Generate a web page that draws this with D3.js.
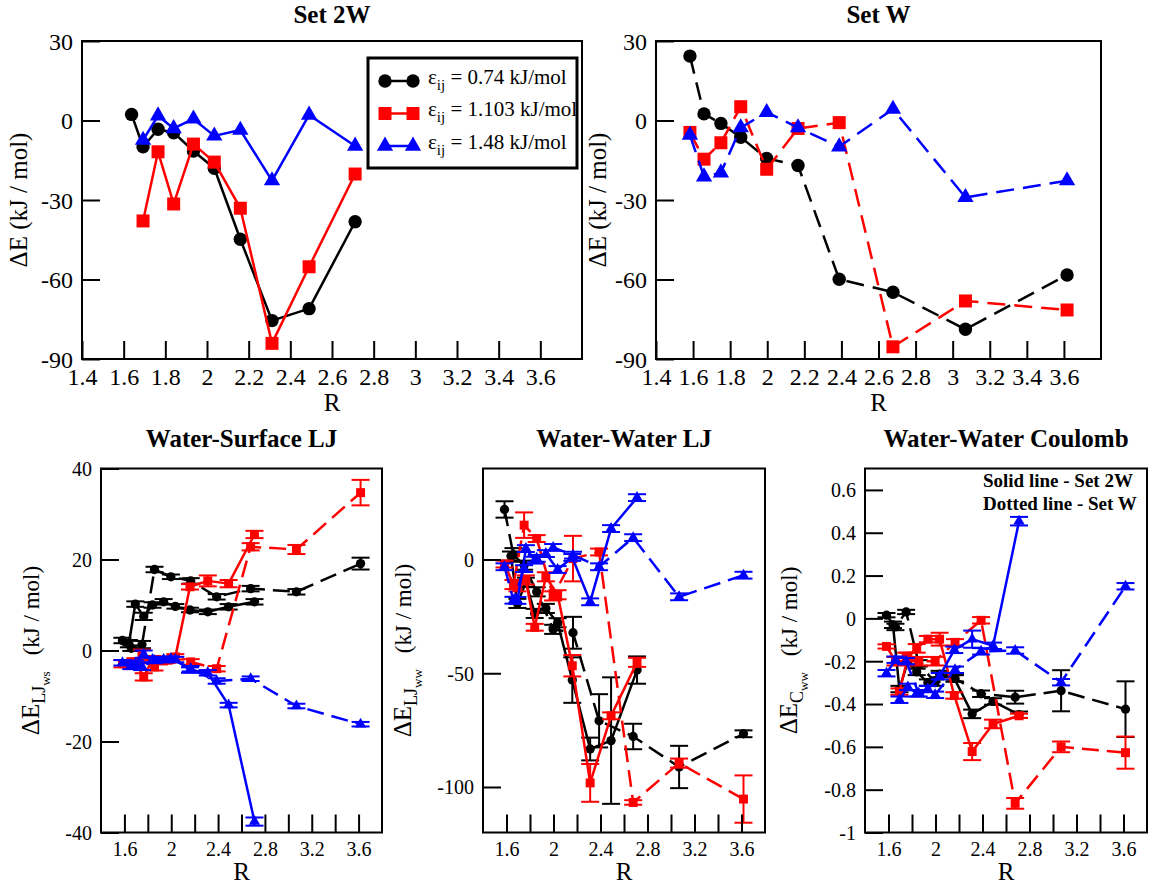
<!DOCTYPE html>
<html><head><meta charset="utf-8">
<script src="https://cdn.jsdelivr.net/npm/d3@7"></script>
<style>body{margin:0;background:#fff} svg{display:block} svg text{font-family:"Liberation Serif",serif !important}</style>
</head><body><svg id="c" width="1159" height="891"></svg>
<script>
// ---------- data ----------
const rBlack2W = [1.638, 1.693, 1.765, 1.84, 1.935, 2.035, 2.16, 2.312, 2.49, 2.711];
const rRB2W    = [1.693, 1.765, 1.84, 1.935, 2.035, 2.16, 2.312, 2.49, 2.711];
const rW       = [1.583, 1.659, 1.75, 1.857, 1.997, 2.166, 2.388, 2.678, 3.069, 3.617];

const legendLabels = ["0.74 kJ/mol", "1.103 kJ/mol", "1.48 kJ/mol"];
const panelTitles = ["Set 2W", "Set W", "Water-Surface LJ", "Water-Water LJ", "Water-Water Coulomb"];

// Top panels: total ΔE
const set2W_black = [2.3, -9.9, -3.3, -4.6, -11.5, -18.0, -44.8, -75.5, -71.0, -38.2];
const set2W_red   = [-37.9, -11.8, -31.5, -8.9, -15.7, -33.1, -84.1, -55.2, -20.2];
const set2W_blue  = [-7.4, 1.8, -3.0, 0.6, -5.8, -3.6, -22.7, 2.1, -9.6];
const setW_black  = [24.3, 2.5, -1.1, -6.3, -14.3, -17.0, -59.9, -64.8, -78.8, -58.3];
const setW_red    = [-4.5, -14.6, -8.4, 5.2, -18.4, -3.0, -0.8, -85.4, -68.1, -71.5];
const setW_blue   = [-5.5, -21.2, -19.7, -2.7, 3.1, -2.7, -9.9, 4.3, -29.0, -22.7];

// Water-Surface LJ
const ws_black_2W = [1.5, 10.2, 7.5, 10.0, 10.7, 9.7, 8.9, 8.5, 9.6, 10.7];
const ws_black_2W_err = [0.8, 0.6, 0.8, 0.6, 0.6, 0.5, 0.5, 0.5, 0.6, 0.6];
const ws_black_W  = [2.2, 0.5, 1.3, 17.8, 16.2, 15.3, 11.8, 13.6, 12.9, 19.1];
const ws_black_W_err = [0.6, 0.6, 0.8, 0.6, 0.5, 0.6, 0.6, 0.6, 0.6, 1.3];
const ws_red_2W   = [-2.5, -5.8, -2.0, -2.3, -1.4, 14.0, 15.3, 14.7, 25.5];
const ws_red_2W_err = [0.8, 0.8, 0.8, 0.6, 0.6, 0.6, 1.2, 0.8, 0.8];
const ws_red_W    = [-2.9, -3.0, -1.0, -3.6, -2.0, -2.5, -4.0, 22.8, 22.2, 34.7];
const ws_red_W_err = [0.8, 0.8, 1.2, 0.8, 0.6, 0.6, 0.6, 0.8, 1.0, 2.8];
const ws_blue_2W  = [-3.0, -0.8, -2.0, -2.0, -2.0, -4.3, -4.9, -12.0, -37.6];
const ws_blue_2W_err = [0.8, 0.8, 0.6, 0.6, 0.6, 0.6, 0.6, 0.5, 0.9];
const ws_blue_W   = [-2.7, -3.3, -3.5, -2.2, -1.8, -4.0, -6.7, -6.2, -12.2, -16.2];
const ws_blue_W_err = [0.6, 0.8, 0.8, 0.6, 0.5, 0.6, 0.6, 0.5, 0.5, 0.5];

// Water-Water LJ
const ww_black_2W = [1.5, -19.3, -10.0, -23.7, -21.5, -27.8, -53.0, -83.3, -79.6, -48.6];
const ww_black_2W_err = [2, 2, 2, 2, 2, 2, 10, 5, 27.8, 6];
const ww_black_W  = [22.0, 2.0, -2.5, -14.2, -30.7, -32.2, -70.9, -77.8, -91.2, -76.6];
const ww_black_W_err = [3.6, 3, 2, 2, 2, 7, 11.7, 5.6, 9.3, 1.5];
const ww_red_2W   = [-12.0, -9.0, -29.8, -7.6, -15.5, -46.7, -98.2, -68.7, -45.2];
const ww_red_2W_err = [2, 2, 1.5, 2, 2, 4.7, 8.3, 1.5, 2];
const ww_red_W    = [-2.0, -11.0, 15.1, 9.2, -16.0, 0.4, 3.3, -106.8, -89.5, -105.3];
const ww_red_W_err = [1.5, 2, 5.6, 1.5, 2, 10, 1.5, 1, 2, 10.4];
const ww_blue_2W  = [-18.0, 4.8, -0.3, 2.6, -4.4, 0.9, -18.6, 13.6, 27.2];
const ww_blue_2W_err = [1.5, 1.5, 1.5, 1.5, 1.5, 1.5, 1.5, 1.5, 1.5];
const ww_blue_W   = [-3.2, -17.9, -4.0, 0.5, 5.3, 1.9, -3.2, 9.6, -16.4, -6.9];
const ww_blue_W_err = [1.5, 1.5, 1.5, 1.5, 1.5, 1.5, 1.5, 1.5, 1.5, 1.5];

// Water-Water Coulomb
const c_black_2W = [-0.03, -0.33, -0.20, -0.25, -0.30, -0.26, -0.28, -0.446, -0.388, -0.45];
const c_black_2W_err = [0.015, 0.015, 0.015, 0.015, 0.015, 0.015, 0.015, 0.02, 0.015, 0.015];
const c_black_W  = [0.015, -0.04, 0.03, -0.21, -0.30, -0.28, -0.352, -0.368, -0.338, -0.424];
const c_black_W_err = [0.01, 0.015, 0.01, 0.015, 0.015, 0.015, 0.015, 0.03, 0.096, 0.13];
const c_red_2W   = [-0.342, -0.18, -0.14, -0.097, -0.097, -0.36, -0.622, -0.493, -0.455];
const c_red_2W_err = [0.015, 0.02, 0.02, 0.015, 0.03, 0.015, 0.04, 0.02, 0.01];
const c_red_W    = [-0.131, -0.20, -0.18, -0.20, -0.20, -0.112, -0.009, -0.864, -0.60, -0.627];
const c_red_W_err = [0.01, 0.02, 0.02, 0.02, 0.02, 0.015, 0.015, 0.025, 0.025, 0.075];
const c_blue_2W  = [-0.38, -0.32, -0.35, -0.33, -0.27, -0.147, -0.097, -0.128, 0.454];
const c_blue_2W_err = [0.015, 0.015, 0.015, 0.015, 0.015, 0.015, 0.04, 0.015, 0.02];
const c_blue_W   = [-0.256, -0.193, -0.2, -0.35, -0.357, -0.24, -0.154, -0.15, -0.298, 0.15];
const c_blue_W_err = [0.015, 0.015, 0.015, 0.015, 0.015, 0.015, 0.015, 0.015, 0.015, 0.015];

// ---------- drawing ----------
const SERIF = "Liberation Serif, serif";
const svg = d3.select("#c");
const COL = {black: "#000000", red: "#ff0000", blue: "#0000ff"};
const SYM = {black: d3.symbolCircle, red: d3.symbolSquare, blue: d3.symbolTriangle};

const fmt = v => String(+v.toFixed(2));
const zip = (r, v, e) => r.map((rr, i) => ({r: rr, v: v[i], e: e ? e[i] : 0}));

function drawPanel(p) {
  const g = svg.append("g");
  const x = d3.scaleLinear().domain([1.4, 3.8]).range([p.x0, p.x1]);
  const y = d3.scaleLinear().domain(p.ydom).range([p.y1, p.y0]);

  const line = d3.line().x(d => x(d.r)).y(d => y(d.v));
  p.series.forEach(s => {
    const data = zip(s.r, s.v, s.e);
    g.append("path").datum(data).attr("d", line)
      .attr("fill", "none").attr("stroke", COL[s.c]).attr("stroke-width", p.lw)
      .attr("stroke-dasharray", s.dash ? p.dash : null)
      .attr("stroke-linejoin", "round");
    if (s.e) {
      const eg = g.append("g").attr("stroke", COL[s.c]).attr("stroke-width", 2);
      data.forEach(d => {
        const yt = y(d.v + d.e), yb = y(d.v - d.e), xc = x(d.r);
        eg.append("line").attr("x1", xc).attr("x2", xc).attr("y1", yt).attr("y2", yb);
        eg.append("line").attr("x1", xc - p.cap).attr("x2", xc + p.cap).attr("y1", yt).attr("y2", yt);
        eg.append("line").attr("x1", xc - p.cap).attr("x2", xc + p.cap).attr("y1", yb).attr("y2", yb);
      });
    }
    g.append("g").selectAll("path").data(data).join("path")
      .attr("transform", d => `translate(${x(d.r)},${y(d.v)})`)
      .attr("d", d3.symbol().type(SYM[s.c]).size(p.msize[s.c]))
      .attr("fill", COL[s.c]);
  });

  const xa = g.append("g").attr("transform", `translate(0,${p.y1})`)
    .call(d3.axisBottom(x).tickValues(p.xticks).tickSize(-18).tickFormat(p.xfmt));
  xa.select(".domain").remove();
  xa.attr("font-family", SERIF).attr("font-size", p.tickFont);
  xa.selectAll("line").attr("stroke", "#000").attr("stroke-width", 2);
  xa.selectAll("text").attr("y", p.xLabBase - p.y1).attr("dy", null).attr("fill", "#000");

  const ya = g.append("g").attr("transform", `translate(${p.x0},0)`)
    .call(d3.axisLeft(y).tickValues(p.yticks).tickSize(-18).tickPadding(p.yPad).tickFormat(fmt));
  ya.select(".domain").remove();
  ya.attr("font-family", SERIF).attr("font-size", p.tickFont);
  ya.selectAll("line").attr("stroke", "#000").attr("stroke-width", 2);
  ya.selectAll("text").attr("fill", "#000").attr("dy", "0.34em");

  g.append("rect").attr("x", p.x0).attr("y", p.y0).attr("width", p.x1 - p.x0).attr("height", p.y1 - p.y0)
    .attr("fill", "none").attr("stroke", "#000").attr("stroke-width", 2);

  svg.append("text").attr("x", (p.x0 + p.x1) / 2).attr("y", p.titleY).attr("text-anchor", "middle")
    .attr("font-family", SERIF).attr("font-weight", "bold").attr("font-size", 25).text(p.title);
  svg.append("text").attr("x", (p.x0 + p.x1) / 2).attr("y", p.rY).attr("text-anchor", "middle")
    .attr("font-family", SERIF).attr("font-size", 25).text("R");
  const yl = svg.append("text").attr("transform", `translate(${p.ylx},${(p.y0 + p.y1) / 2}) rotate(-90)`)
    .attr("text-anchor", "middle").attr("font-family", SERIF);
  if (!p.sub) {
    yl.attr("font-size", 25).text("\u0394E (kJ / mol)");
  } else {
    yl.append("tspan").attr("font-size", 25).text("\u0394E");
    yl.append("tspan").attr("font-size", 18).attr("dy", 6).text(p.sub[0]);
    yl.append("tspan").attr("font-size", 13).attr("dy", 5).text(p.sub[1]);
    yl.append("tspan").attr("font-size", 23).attr("dy", -11).attr("dx", 16).text("(kJ / mol)");
  }
  return {x, y};
}

const topXTicks = d3.range(7, 19).map(i => i / 5);
const botXTicks = d3.range(8, 19).map(i => i / 5);
const topFmt = v => fmt(v);
const botFmt = v => (Math.round(v * 10) % 4 === 0 ? fmt(v) : "");

const topCommon = {y0: 41, y1: 359, ydom: [-90, 30], yticks: [-90, -60, -30, 0, 30],
  xticks: topXTicks, xfmt: topFmt, tickFont: 24, xLabBase: 385, yPad: 9, lw: 2.5, dash: "18,9",
  msize: {black: 141, red: 169, blue: 115}, titleY: 23, rY: 411, cap: 0};
const botCommon = {y0: 468.5, y1: 832.5, xticks: botXTicks, xfmt: botFmt, tickFont: 20, xLabBase: 856,
  yPad: 9, lw: 2.5, dash: "17,8", msize: {black: 68, red: 80, blue: 55}, titleY: 447, rY: 880, cap: 9};

drawPanel(Object.assign({}, topCommon, {x0: 82, x1: 582, title: panelTitles[0], ylx: 27, series: [
  {c: "black", r: rBlack2W, v: set2W_black},
  {c: "red", r: rRB2W, v: set2W_red},
  {c: "blue", r: rRB2W, v: set2W_blue}]}));

drawPanel(Object.assign({}, topCommon, {x0: 656, x1: 1101, title: panelTitles[1], ylx: 606, series: [
  {c: "black", r: rW, v: setW_black, dash: true},
  {c: "red", r: rW, v: setW_red, dash: true},
  {c: "blue", r: rW, v: setW_blue, dash: true}]}));

drawPanel(Object.assign({}, botCommon, {x0: 101, x1: 382, ydom: [-40, 40], yticks: [-40, -20, 0, 20, 40],
  title: panelTitles[2], ylx: 39, sub: ["LJ", "ws"], series: [
  {c: "black", r: rBlack2W, v: ws_black_2W, e: ws_black_2W_err},
  {c: "black", r: rW, v: ws_black_W, e: ws_black_W_err, dash: true},
  {c: "red", r: rRB2W, v: ws_red_2W, e: ws_red_2W_err},
  {c: "red", r: rW, v: ws_red_W, e: ws_red_W_err, dash: true},
  {c: "blue", r: rRB2W, v: ws_blue_2W, e: ws_blue_2W_err},
  {c: "blue", r: rW, v: ws_blue_W, e: ws_blue_W_err, dash: true}]}));

drawPanel(Object.assign({}, botCommon, {x0: 483, x1: 765, ydom: [-120, 40], yticks: [-100, -50, 0],
  title: panelTitles[3], ylx: 411, sub: ["LJ", "ww"], series: [
  {c: "black", r: rBlack2W, v: ww_black_2W, e: ww_black_2W_err},
  {c: "black", r: rW, v: ww_black_W, e: ww_black_W_err, dash: true},
  {c: "red", r: rRB2W, v: ww_red_2W, e: ww_red_2W_err},
  {c: "red", r: rW, v: ww_red_W, e: ww_red_W_err, dash: true},
  {c: "blue", r: rRB2W, v: ww_blue_2W, e: ww_blue_2W_err},
  {c: "blue", r: rW, v: ww_blue_W, e: ww_blue_W_err, dash: true}]}));

drawPanel(Object.assign({}, botCommon, {x0: 865, x1: 1147, ydom: [-1, 0.7],
  yticks: [-1, -0.8, -0.6, -0.4, -0.2, 0, 0.2, 0.4, 0.6],
  title: panelTitles[4], ylx: 797, sub: ["C", "ww"], series: [
  {c: "black", r: rBlack2W, v: c_black_2W, e: c_black_2W_err},
  {c: "black", r: rW, v: c_black_W, e: c_black_W_err, dash: true},
  {c: "red", r: rRB2W, v: c_red_2W, e: c_red_2W_err},
  {c: "red", r: rW, v: c_red_W, e: c_red_W_err, dash: true},
  {c: "blue", r: rRB2W, v: c_blue_2W, e: c_blue_2W_err},
  {c: "blue", r: rW, v: c_blue_W, e: c_blue_W_err, dash: true}]}));

// legend (Set 2W panel)
const lg = svg.append("g");
lg.append("rect").attr("x", 368).attr("y", 58).attr("width", 209).attr("height", 110)
  .attr("fill", "#fff").attr("stroke", "#000").attr("stroke-width", 3);
["black", "red", "blue"].forEach((c, i) => {
  const yy = 81 + i * 32.5;
  lg.append("line").attr("x1", 385).attr("x2", 413).attr("y1", yy).attr("y2", yy)
    .attr("stroke", COL[c]).attr("stroke-width", 2.5);
  [385, 413].forEach(xx => lg.append("path").attr("transform", `translate(${xx},${yy})`)
    .attr("d", d3.symbol().type(SYM[c]).size(topCommon.msize[c])).attr("fill", COL[c]));
  const t = lg.append("text").attr("x", 428).attr("y", yy + 2.5).attr("font-family", SERIF).attr("font-size", 21);
  t.append("tspan").text("\u03b5");
  t.append("tspan").attr("font-size", 15).attr("dy", 6).text("ij");
  t.append("tspan").attr("dy", -6).text(" = " + legendLabels[i]);
});

// annotation (Coulomb panel)
const notes = ["Solid line - Set 2W", "Dotted line - Set W"];
notes.forEach((s, i) => svg.append("text").attr("x", 983).attr("y", 487 + i * 23)
  .attr("font-family", SERIF).attr("font-weight", "bold").attr("font-size", 19).text(s));
</script></body></html>
